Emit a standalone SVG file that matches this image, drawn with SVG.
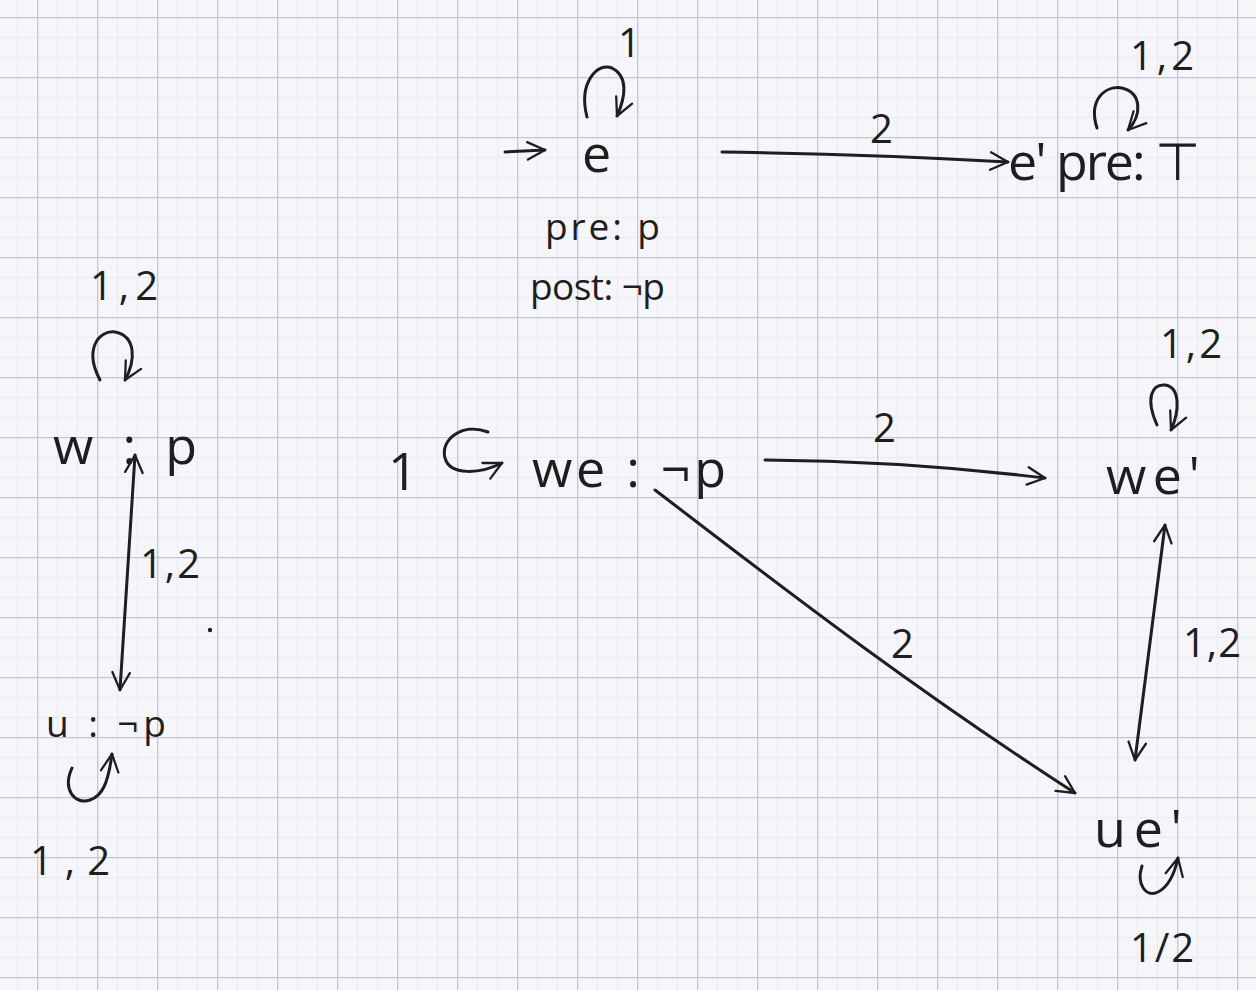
<svg xmlns="http://www.w3.org/2000/svg" width="1256" height="990" viewBox="0 0 1256 990">
<defs>
  <pattern id="minor" x="37" y="17" width="20" height="20" patternUnits="userSpaceOnUse">
    <path d="M0,0.5 H20 M0.5,0 V20" stroke="#eaebf2" stroke-width="1" fill="none"/>
  </pattern>
  <pattern id="major" x="37" y="17" width="60" height="60" patternUnits="userSpaceOnUse">
    <path d="M0,0.7 H60 M0.7,0 V60" stroke="#c3c6d6" stroke-width="1.3" fill="none"/>
  </pattern>
  <marker id="ah" viewBox="0 0 12 12" refX="11" refY="6" markerWidth="7" markerHeight="7" orient="auto" markerUnits="strokeWidth">
    <path d="M1,1 L11,6 L1,11" fill="none" stroke="#1e1e1e" stroke-width="1.3" stroke-linecap="round" stroke-linejoin="round"/>
  </marker>
  <marker id="ahs" viewBox="0 0 12 12" refX="1" refY="6" markerWidth="7" markerHeight="7" orient="auto" markerUnits="strokeWidth">
    <path d="M11,1 L1,6 L11,11" fill="none" stroke="#1e1e1e" stroke-width="1.3" stroke-linecap="round" stroke-linejoin="round"/>
  </marker>
</defs>
<style>
  text { font-family: "Open Sans", "Liberation Sans", sans-serif; fill: #1e1e1e; }
  .lbl { font-size: 40px; }
  .nd { font-size: 52px; }
  .sm { font-size: 37px; }
  .edge { fill: none; stroke: #1e1e1e; stroke-width: 3; stroke-linecap: round; }
</style>
<rect width="1256" height="990" fill="#f6f6fa"/>
<rect width="1256" height="990" fill="url(#minor)"/>
<rect width="1256" height="990" fill="url(#major)"/>

<g id="connectors">
  <path class="edge" d="M505,152 L545,150" marker-end="url(#ah)"/>
  <path class="edge" d="M587,117 C578,82 598,62 612,68 C628,76 626,96 617,116" marker-end="url(#ah)"/>
  <path class="edge" d="M722,152 Q870,154 1008,162" marker-end="url(#ah)"/>
  <path class="edge" d="M1097,128 C1088,100 1105,85 1122,88 C1142,93 1142,115 1128,130" marker-end="url(#ah)"/>
  <path class="edge" d="M100,380 C84,350 98,330 115,332 C136,336 136,360 125,380" marker-end="url(#ah)"/>
  <path class="edge" d="M135,455 L120,690" marker-start="url(#ahs)" marker-end="url(#ah)"/>
  <path class="edge" d="M72,768 C62,790 75,805 90,800 C102,796 108,784 112,754" marker-end="url(#ah)"/>
  <path class="edge" d="M488,432 C462,422 440,440 445,458 C450,476 480,474 502,463" marker-end="url(#ah)"/>
  <path class="edge" d="M765,460 Q905,461 1045,478" marker-end="url(#ah)"/>
  <path class="edge" d="M655,490 C760,570 900,680 1075,793" marker-end="url(#ah)"/>
  <path class="edge" d="M1157,425 C1145,398 1152,384 1165,385 C1180,387 1180,410 1171,430" marker-end="url(#ah)"/>
  <path class="edge" d="M1165,525 L1135,760" marker-start="url(#ahs)" marker-end="url(#ah)"/>
  <path class="edge" d="M1142,866 C1136,884 1146,898 1158,892 C1168,887 1174,876 1178,858" marker-end="url(#ah)"/>
  <circle cx="210" cy="630" r="2.2" fill="#1e1e1e"/>
  <text class="lbl" x="618" y="57">1</text>
  <text class="lbl" x="870" y="143">2</text>
  <text class="lbl" x="1130" y="70" textLength="64">1,2</text>
  <text class="lbl" x="90" y="300" textLength="68">1,2</text>
  <text class="lbl" x="140" y="578" textLength="60">1,2</text>
  <text class="lbl" x="30" y="875" textLength="80">1,2</text>
  <text class="nd" x="388" y="490">1</text>
  <text class="lbl" x="873" y="442">2</text>
  <text class="lbl" x="891" y="658">2</text>
  <text class="lbl" x="1160" y="358" textLength="62">1,2</text>
  <text class="lbl" x="1183" y="657" textLength="58">1,2</text>
  <text class="lbl" x="1130" y="962" textLength="64">1/2</text>
</g>

<g id="node-e">
  <text class="nd" x="582" y="172">e</text>
  <text class="sm" x="545" y="240" textLength="115">pre: p</text>
  <text class="sm" x="530" y="300" textLength="135">post: ¬p</text>
</g>
<g id="node-e-prime">
  <text class="nd" x="1008" y="180" textLength="192">e' pre: ⊤</text>
</g>
<g id="node-w">
  <text class="nd" x="53" y="464" textLength="144">w : p</text>
</g>
<g id="node-u">
  <text class="sm" x="46" y="737" textLength="120">u : ¬p</text>
</g>
<g id="node-we">
  <text class="nd" x="532" y="487" textLength="194">we : ¬p</text>
</g>
<g id="node-we-prime">
  <text class="nd" x="1106" y="494" textLength="94">we'</text>
</g>
<g id="node-ue-prime">
  <text class="nd" x="1094" y="847" textLength="88">ue'</text>
</g>
</svg>
